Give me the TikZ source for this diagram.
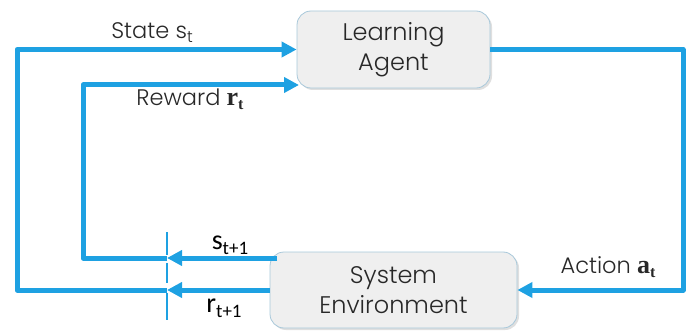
\documentclass[tikz,border=0pt]{standalone}
\usepackage{fontspec}
\setmainfont{Poppins Light}
\newfontfamily\calfont{Carlito}
\newfontfamily\serfont{Liberation Serif}
\usetikzlibrary{arrows.meta,shadows}
\definecolor{flowblue}{RGB}{30,161,226}
\definecolor{boxfill}{RGB}{239,239,239}
\definecolor{boxline}{RGB}{168,200,218}
\definecolor{txt}{RGB}{40,40,40}
\newcommand\lsub[1]{\raisebox{-4pt}{\fontsize{16}{16}\selectfont #1}}
\newcommand\csub[1]{\raisebox{-5pt}{\fontsize{19}{19}\selectfont #1}}
\begin{document}
\begin{tikzpicture}[x=1pt,y=-1pt,
  block/.style={draw=boxline, line width=0.8pt, fill=boxfill, rounded corners=14pt,
    align=center, font=\fontsize{24}{30}\selectfont, text=txt,
    drop shadow={shadow xshift=2pt, shadow yshift=-2pt, opacity=0.25, fill=gray}},
  flow/.style={draw=flowblue, line width=5pt, line join=round},
  tipped/.style={-{Triangle[length=15pt,width=15pt]}},
  lbl/.style={font=\fontsize{22.5}{24}\selectfont, text=txt, inner sep=0pt},
  clbl/.style={font=\calfont\fontsize{28}{30}\selectfont, text=black, inner sep=0pt}]
\useasboundingbox (0,0) rectangle (691,334);
\node[block, minimum width=193pt, minimum height=77pt] (agent) at (393.5,49.5) {Learning\\Agent};
\node[block, minimum width=247pt, minimum height=76pt] (env) at (393.5,290) {System\\Environment};
\coordinate (dtop) at (167,232);
\coordinate (dbot) at (167,320);
\coordinate (ar) at (683,290);
\coordinate (bl) at (17,290);
\coordinate (sout) at (277,258);
\coordinate (rin) at (299,85);
\coordinate (bl2) at (83,258);
\draw[flowblue, line width=2pt, dash pattern=on 23pt off 8pt on 20pt off 10pt on 27pt] (dtop) -- (dbot);
\draw[flow,tipped] (agent.east) -| (ar) -- (env.east);
\draw[flow,tipped] (env.west) -- (env.west -| dtop);
\draw[flow,tipped] (env.west -| dtop) -- (bl) |- (agent.west);
\draw[flow,tipped] (sout) -- (sout -| dtop);
\draw[flow,tipped] (sout -| dtop) -- (bl2) |- (rin);
\node[lbl] (lstate) at (152,33) {State s\lsub{t}};
\node[lbl] (lreward) at (190,99) {Reward {\serfont\bfseries\fontsize{26}{26}\selectfont r}\lsub{\serfont\bfseries t}};
\node[lbl] (laction) at (608,267) {Action {\serfont\bfseries\fontsize{26}{26}\selectfont a}\lsub{\serfont\bfseries t}};
\node[clbl] (lsnext) at (230,245) {s\csub{t+1}};
\node[clbl] (lrnext) at (224,308) {r\csub{t+1}};
\end{tikzpicture}
\end{document}
